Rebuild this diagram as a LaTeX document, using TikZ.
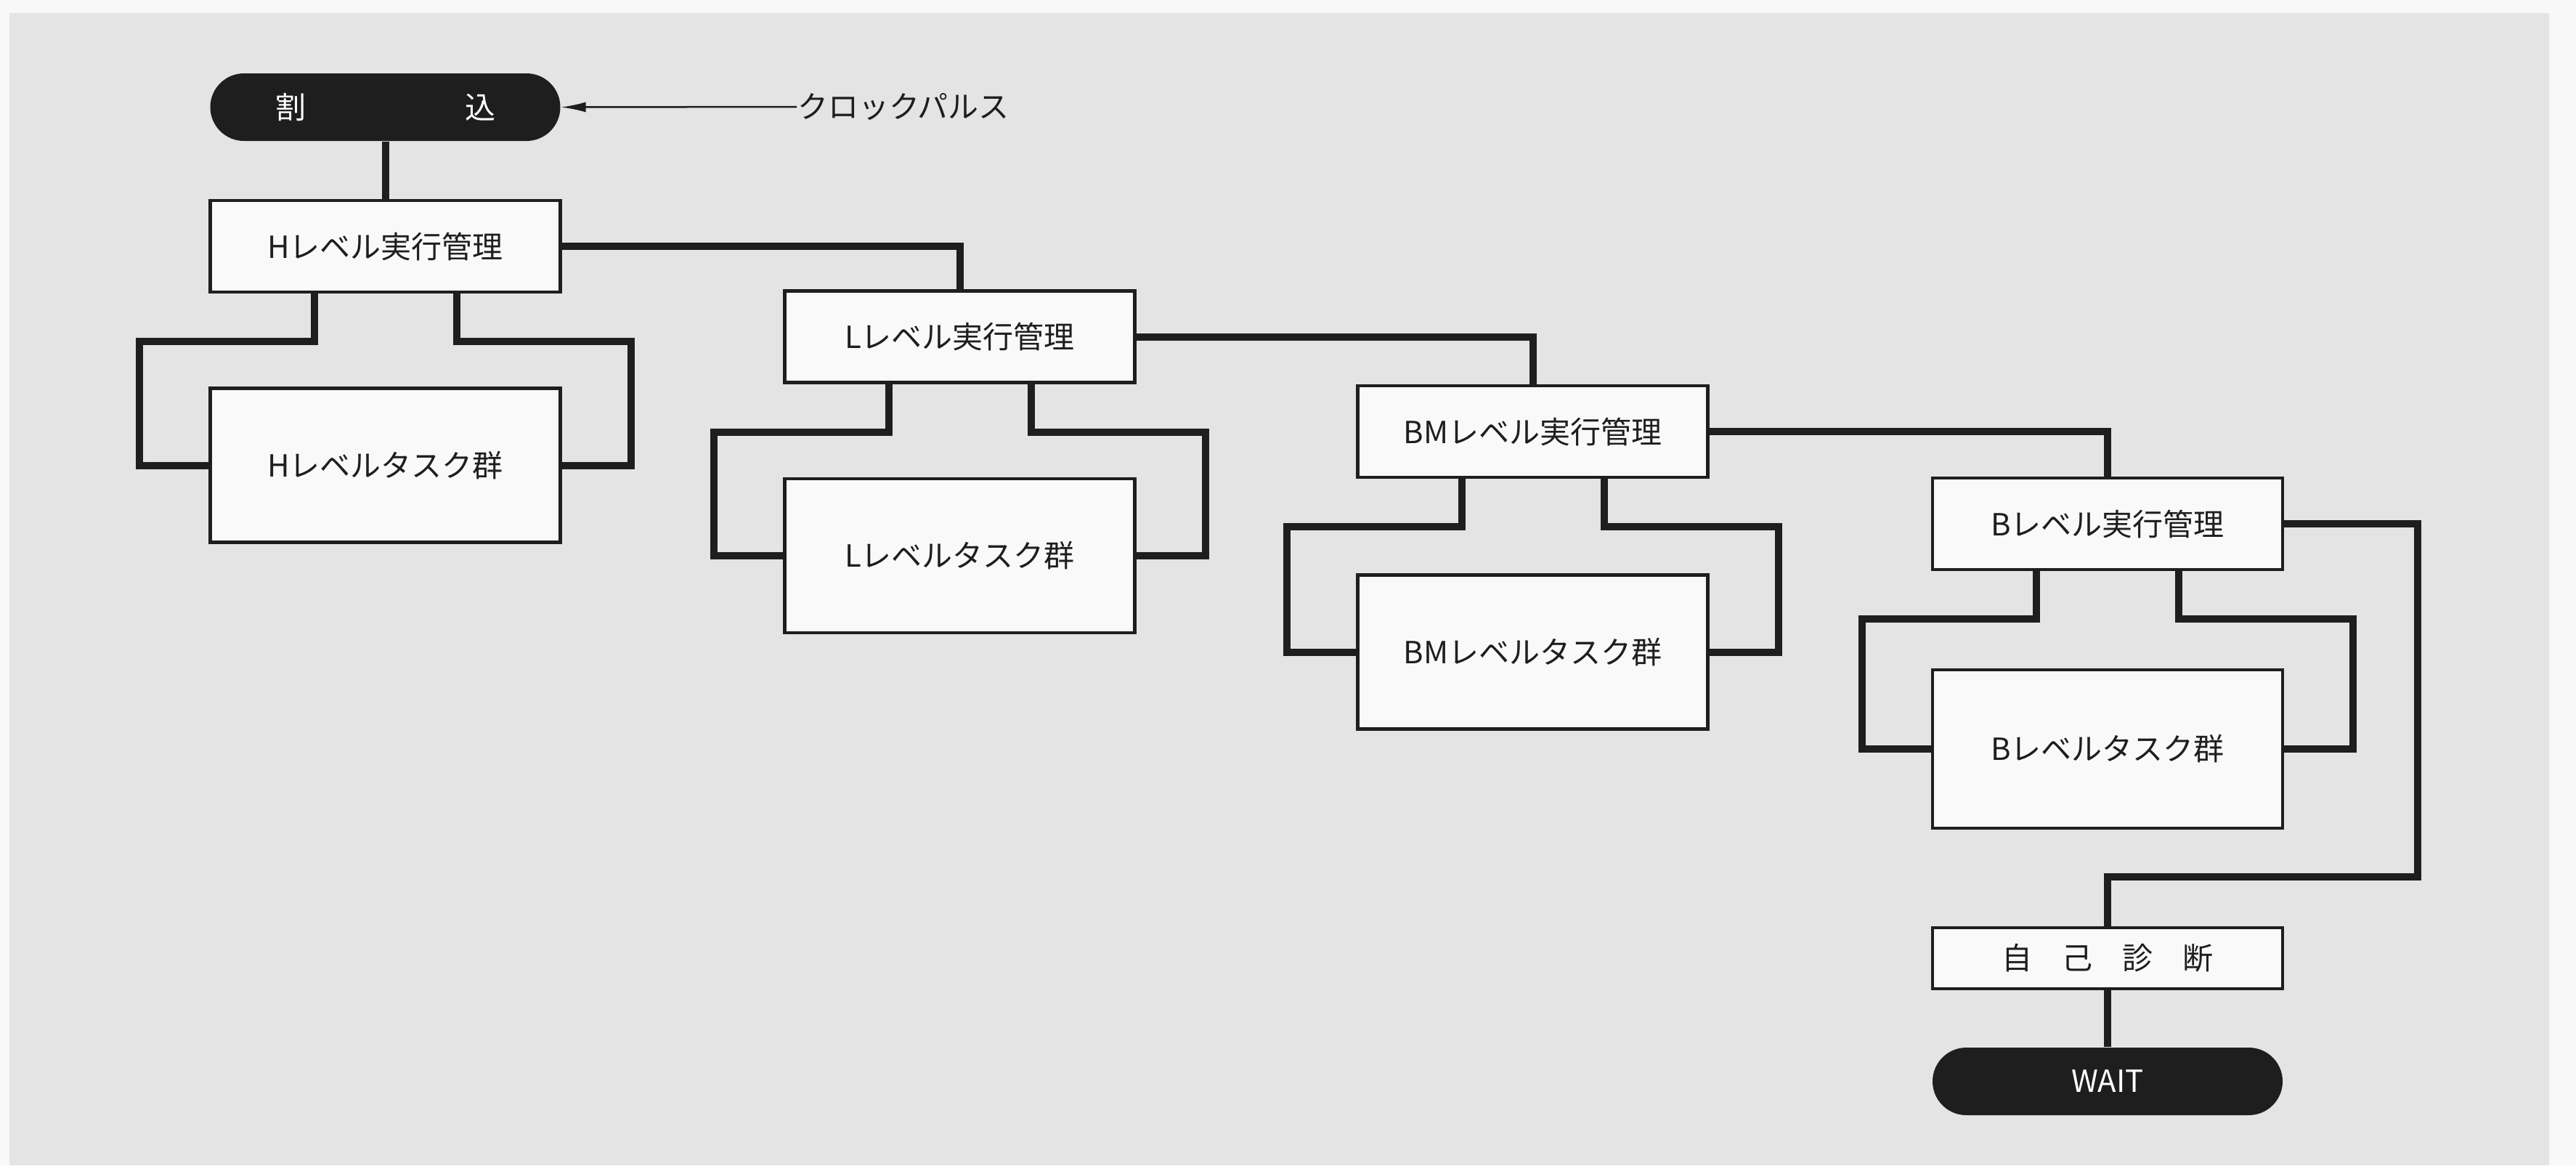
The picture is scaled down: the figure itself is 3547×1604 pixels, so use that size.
\documentclass[tikz,border=0pt]{standalone}
\usepackage{fontspec}
\setmainfont{Noto Sans CJK JP}
\usetikzlibrary{arrows.meta,calc}
\definecolor{paper}{HTML}{E4E4E4}
\definecolor{margincol}{HTML}{F8F8F8}
\definecolor{boxfill}{HTML}{F9F9F9}
\definecolor{ink}{HTML}{1E1E1E}
\begin{document}
\begin{tikzpicture}[x=0.2pt,y=-0.2pt,
  font=\fontsize{8.4pt}{10pt}\selectfont,
  execbox/.style={draw=ink,fill=boxfill,line width=0.9pt,minimum width=96.4pt,minimum height=25.2pt,inner sep=0pt,text=ink},
  taskbox/.style={execbox,minimum height=42.4pt},
  diagbox/.style={execbox,minimum height=16.8pt},
  pill/.style={fill=ink,text=white,rounded corners=9.3pt,minimum width=96.4pt,minimum height=18.6pt,inner sep=0pt},
  conn/.style={draw=ink,line width=2pt},
  clk/.style={draw=ink,line width=0.5pt,-{Latex[length=6.8pt,width=2.8pt]}}]
% page and paper
\useasboundingbox (0,0) rectangle (3547,1604);
\fill[margincol] (0,0) rectangle (3547,1604);
\fill[paper] (13,18) rectangle (3510,1604);

% nodes
\node[pill] (pint) at (530.5,147.5) {割\hspace{43.8pt}込};
\node[anchor=west,text=ink,inner sep=0pt] (clock) at (1097,147) {クロックパルス};
\node[execbox] (hx) at (530.5,339) {Hレベル実行管理};
\node[taskbox] (ht) at (530.5,640.5) {Hレベルタスク群};
\node[execbox] (lx) at (1321.5,463.5) {Lレベル実行管理};
\node[taskbox] (lt) at (1321.5,765) {Lレベルタスク群};
\node[execbox] (bmx) at (2110.5,594) {BMレベル実行管理};
\node[taskbox] (bmt) at (2110.5,897.5) {BMレベルタスク群};
\node[execbox] (bx) at (2902,721) {Bレベル実行管理};
\node[taskbox,minimum height=43.6pt] (bt) at (2902,1031) {Bレベルタスク群};
\node[diagbox] (diag) at (2902,1319) {自\hspace{8.2pt}己\hspace{8.2pt}診\hspace{8.2pt}断};
\node[pill] (wait) at (2902,1488.5) {WAIT};
\coordinate (rc) at (3329,1207);

% connectors
\draw[clk] (clock.west) -- (pint.east);
\draw[conn] (pint.south) -- (hx.north);
\draw[conn] (hx.east) -| (lx.north);
\draw[conn] (lx.east) -| (bmx.north);
\draw[conn] (bmx.east) -| (bx.north);
\draw[conn] (bx.east) -| (rc) -| (diag.north);
\draw[conn] (diag.south) -- (wait.north);

% loops
\foreach \ex/\ts in {hx/ht,lx/lt,bmx/bmt,bx/bt}{
  \draw[conn] ([xshift=-19.6pt]\ex.south) -- ++(0,66) -| ([xshift=-19pt]\ts.west) -- (\ts.west);
  \draw[conn] ([xshift=19.6pt]\ex.south) -- ++(0,66) -| ([xshift=19pt]\ts.east) -- (\ts.east);
}
\end{tikzpicture}
\end{document}
